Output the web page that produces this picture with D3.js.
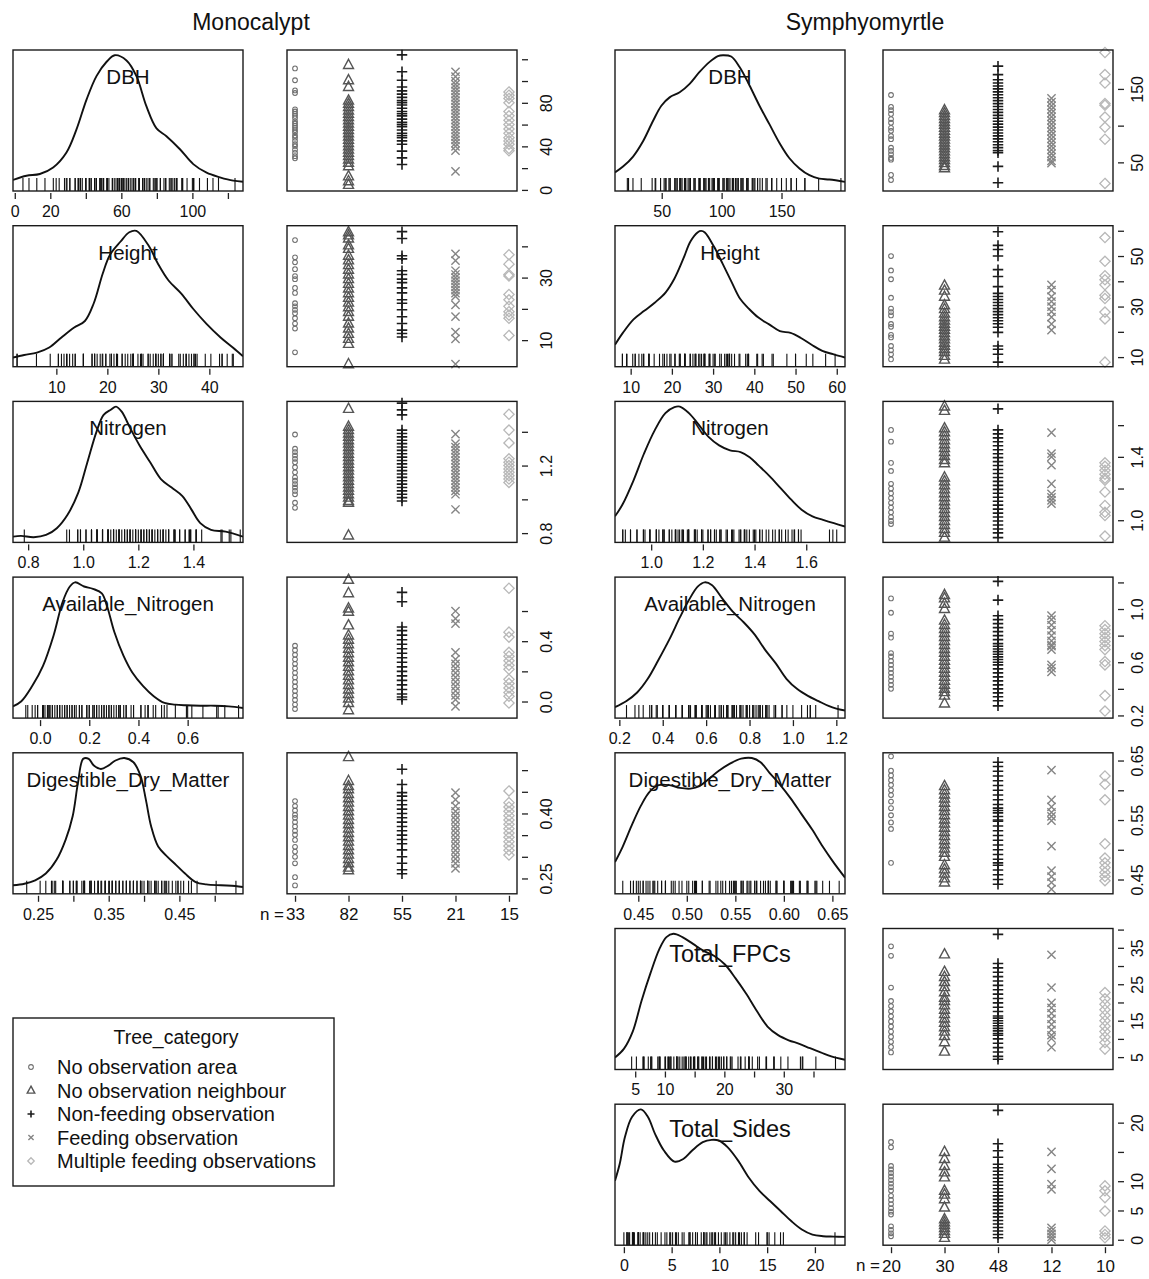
<!DOCTYPE html>
<html>
<head>
<meta charset="utf-8">
<script src="https://cdn.jsdelivr.net/npm/d3@7"></script>
<style>
  body { margin: 0; background: #fff; }
  svg text { font-family: "Liberation Sans", Arial, Helvetica, sans-serif; fill: #111; }
</style>
</head>
<body>
<svg id="chart" width="1149" height="1279"></svg>
<script>
(function() {

// ---- categories / counts ----
var categories = ['No observation area', 'No observation neighbour', 'Non-feeding observation',
                  'Feeding observation', 'Multiple feeding observations'];
var monoCounts = ['33', '82', '55', '21', '15'];
var symphCounts = ['20', '30', '48', '12', '10'];

// ---- Monocalypt: density curves [value, relative density] ----
var monoDbhCurve = [[-1,0.045],[6.6,0.077],[14.1,0.09],[21.6,0.14],[29.1,0.255],[34.7,0.43],[40.4,0.66],[46,0.84],[51.7,0.95],[56.3,1],[62.9,0.96],[68.5,0.84],[74.1,0.61],[79.8,0.44],[85.4,0.38],[93,0.28],[100.5,0.166],[108,0.1],[115.5,0.065],[123,0.039],[128.5,0.031]];
var monoHeightCurve = [[1.5,0.03],[3.7,0.05],[6.2,0.068],[8.6,0.107],[11,0.184],[13.5,0.26],[15.6,0.31],[17.3,0.442],[19.1,0.674],[20.5,0.816],[22.6,0.919],[24.3,0.99],[25.7,1],[28.2,0.88],[29.9,0.75],[32,0.62],[34.5,0.52],[36.9,0.4],[39.4,0.29],[42.2,0.184],[44.6,0.107],[46.6,0.04]];
var monoNitroCurve = [[0.745,0.004],[0.774,0.01],[0.82,0.0],[0.865,0.017],[0.904,0.069],[0.943,0.172],[0.982,0.341],[1.015,0.574],[1.048,0.807],[1.074,0.937],[1.1,0.976],[1.119,1],[1.139,0.963],[1.171,0.833],[1.204,0.704],[1.243,0.574],[1.282,0.445],[1.321,0.38],[1.36,0.315],[1.393,0.211],[1.425,0.108],[1.464,0.056],[1.517,0.043],[1.58,0.004]];
var monoAvnCurve = [[-0.11,0.05],[-0.076,0.089],[-0.032,0.205],[0.012,0.36],[0.055,0.593],[0.092,0.851],[0.121,0.968],[0.142,1],[0.179,0.968],[0.215,0.95],[0.251,0.916],[0.273,0.813],[0.302,0.619],[0.339,0.438],[0.375,0.309],[0.419,0.205],[0.462,0.128],[0.506,0.076],[0.549,0.063],[0.593,0.058],[0.651,0.055],[0.709,0.055],[0.767,0.05],[0.825,0.037]];
var monoDdmCurve = [[0.2146,0.025],[0.2308,0.037],[0.246,0.063],[0.261,0.115],[0.276,0.218],[0.289,0.373],[0.299,0.554],[0.3066,0.813],[0.314,0.994],[0.3217,0.994],[0.329,0.942],[0.339,0.916],[0.3495,0.942],[0.3596,0.981],[0.372,1],[0.385,0.968],[0.395,0.864],[0.4025,0.683],[0.41,0.477],[0.42,0.322],[0.4328,0.245],[0.4455,0.18],[0.458,0.115],[0.473,0.05],[0.488,0.032],[0.5086,0.025],[0.529,0.02],[0.54,0.012]];

// ---- Monocalypt: values per tree category ----
var monoDbhGroups = [
  [111.6,100.7,91.4,89,74,72,70,68,66,63,61,59,57,55,53,50,48,45,42,40,37,34,31,29],
  [114.7,100.7,94.5,82,79,76,73,70,67,64,61,58,55,52,49,46,43,40,37,34,31,28,25,21.7,12.4,8,4.6],
  [124,108.5,100.7,94.5,91,88,85,82,80,78,75,72,70,68,65,62,60,58,55,52,50,48,45,42,35.6,29.4,23.3],
  [108.5,104,100,97,94,91,88,85,82,79,76,73,70,67,64,61,58,55,52,49,46,43,40,36,17],
  [90,87,84,80,72,68,64,60,56,52,48,45,42,38,36]
];
var monoHeightGroups = [
  [42,36.5,34.9,32.7,30.5,29.5,26.7,25.1,21.8,20.8,19.7,18.6,17,15.3,13.7,6.1],
  [44.5,43.5,42.5,40.3,39.2,37,35.5,34,32.5,31,29.5,28,26.5,25,23.5,22,20.5,19,17.5,15.3,13.7,12,10.4,8.8,2.3],
  [44.7,42.5,37,36,32.2,31,29.5,28.4,26.7,25.1,22.9,21.8,19.7,17.5,15.3,13.2,12.1,11],
  [37.6,35.4,32.2,31,30,29,28,27,26,25,24,21.3,17.5,12.6,10.4,2.3],
  [37.3,34.3,31,30.5,24.6,22.9,20.8,19.1,18,17,11.5]
];
var monoNitroGroups = [
  [1.384,1.30,1.28,1.26,1.24,1.22,1.19,1.16,1.13,1.11,1.09,1.07,1.05,1.03,0.98,0.95],
  [1.536,1.43,1.41,1.39,1.37,1.35,1.33,1.31,1.29,1.27,1.25,1.23,1.21,1.19,1.17,1.15,1.13,1.11,1.09,1.07,1.05,1.03,1.01,0.99,0.98,0.786],
  [1.57,1.53,1.50,1.41,1.39,1.37,1.35,1.33,1.31,1.29,1.27,1.25,1.23,1.21,1.19,1.17,1.15,1.13,1.11,1.09,1.07,1.05,1.03,1.01,0.99],
  [1.386,1.33,1.31,1.29,1.27,1.25,1.23,1.21,1.19,1.17,1.15,1.13,1.11,1.09,1.07,1.05,1.03,0.94],
  [1.504,1.41,1.334,1.24,1.22,1.2,1.18,1.16,1.14,1.12,1.10]
];
var monoAvnGroups = [
  [0.37,0.34,0.31,0.28,0.25,0.22,0.19,0.16,0.13,0.10,0.07,0.04,0.01,-0.02,-0.05],
  [0.807,0.718,0.617,0.595,0.505,0.438,0.41,0.38,0.35,0.32,0.29,0.26,0.23,0.2,0.17,0.14,0.11,0.08,0.05,0.02,-0.01,-0.058],
  [0.724,0.662,0.494,0.47,0.44,0.41,0.38,0.35,0.32,0.29,0.26,0.23,0.2,0.17,0.14,0.11,0.08,0.05,0.03,0.013],
  [0.60,0.55,0.516,0.326,0.28,0.25,0.22,0.19,0.16,0.13,0.1,0.07,0.04,0.013,-0.032],
  [0.751,0.46,0.427,0.326,0.30,0.27,0.24,0.214,0.147,0.12,0.09,0.06,0.035,-0.01]
];
var monoDdmGroups = [
  [0.4286,0.417,0.407,0.397,0.39,0.38,0.370,0.36,0.351,0.339,0.323,0.312,0.300,0.285,0.253,0.234],
  [0.53,0.475,0.463,0.456,0.445,0.435,0.425,0.415,0.405,0.395,0.385,0.375,0.365,0.355,0.345,0.335,0.325,0.315,0.305,0.295,0.285,0.275,0.269],
  [0.502,0.467,0.448,0.44,0.43,0.42,0.41,0.40,0.39,0.38,0.37,0.36,0.35,0.34,0.33,0.316,0.30,0.285,0.27,0.261],
  [0.448,0.432,0.417,0.405,0.395,0.385,0.375,0.365,0.355,0.345,0.335,0.325,0.315,0.305,0.295,0.285,0.273],
  [0.452,0.425,0.415,0.405,0.395,0.385,0.375,0.365,0.355,0.345,0.335,0.325,0.315,0.304]
];

// ---- Symphyomyrtle: density curves ----
var symDbhCurve = [[11,0.103],[17.7,0.147],[26.1,0.224],[34.4,0.341],[42.7,0.496],[49.7,0.613],[56.6,0.677],[65,0.716],[73.3,0.781],[81.6,0.872],[90,0.949],[96.9,0.994],[101.1,1],[108,0.99],[115,0.91],[123.3,0.768],[131.6,0.613],[140,0.47],[148.3,0.328],[156.6,0.211],[165,0.133],[173.3,0.081],[181.6,0.055],[190,0.048],[203,0.03]];
var symHeightCurve = [[6.2,0.128],[8.1,0.219],[10.7,0.323],[13.3,0.388],[15.9,0.452],[18.5,0.53],[20.6,0.634],[22.8,0.789],[24.5,0.919],[26.3,0.99],[27.1,1],[28,0.988],[30.2,0.88],[32.3,0.75],[34.5,0.608],[36.6,0.478],[38.8,0.4],[41,0.336],[43.6,0.284],[46.2,0.232],[48.8,0.219],[51.3,0.18],[53.9,0.128],[56.5,0.081],[59.1,0.056],[62,0.03]];
var symNitroCurve = [[0.86,0.16],[0.889,0.25],[0.931,0.432],[0.972,0.639],[1.014,0.82],[1.055,0.95],[1.09,0.996],[1.111,1],[1.146,0.95],[1.18,0.872],[1.222,0.768],[1.263,0.703],[1.305,0.665],[1.346,0.652],[1.381,0.613],[1.416,0.548],[1.457,0.47],[1.499,0.38],[1.541,0.289],[1.582,0.211],[1.624,0.16],[1.665,0.133],[1.707,0.107],[1.75,0.082]];
var symAvnCurve = [[0.18,0.044],[0.233,0.091],[0.282,0.156],[0.331,0.261],[0.38,0.405],[0.43,0.561],[0.479,0.731],[0.52,0.862],[0.561,0.967],[0.593,1],[0.626,0.98],[0.675,0.875],[0.725,0.771],[0.774,0.692],[0.823,0.601],[0.872,0.483],[0.921,0.379],[0.97,0.261],[1.02,0.182],[1.069,0.13],[1.118,0.09],[1.167,0.051],[1.2,0.033],[1.24,0.018]];
var symDdmCurve = [[0.426,0.203],[0.434,0.322],[0.443,0.48],[0.453,0.639],[0.462,0.744],[0.471,0.792],[0.482,0.792],[0.493,0.771],[0.504,0.766],[0.513,0.784],[0.522,0.836],[0.533,0.902],[0.544,0.955],[0.556,0.995],[0.567,1],[0.576,0.968],[0.585,0.889],[0.596,0.797],[0.607,0.691],[0.618,0.572],[0.629,0.454],[0.64,0.322],[0.651,0.203],[0.663,0.084]];
var symFpcCurve = [[1.6,0.052],[3.09,0.118],[4.58,0.25],[6.07,0.487],[7.57,0.698],[9.06,0.882],[10.25,0.974],[11.44,1],[12.94,0.974],[14.73,0.922],[16.52,0.869],[18.31,0.829],[20.1,0.764],[21.89,0.658],[23.68,0.54],[25.47,0.408],[27.26,0.289],[29.05,0.223],[30.83,0.184],[32.62,0.157],[34.41,0.123],[36.2,0.092],[37.99,0.06],[40.3,0.034]];
var symSidesCurve = [[-0.93,0.454],[-0.44,0.582],[0.11,0.788],[0.85,0.942],[1.78,1],[2.52,0.942],[3.26,0.813],[4.19,0.685],[5.3,0.6],[6.22,0.62],[7.15,0.685],[8.26,0.749],[9.19,0.767],[9.93,0.762],[10.85,0.711],[11.96,0.608],[13.07,0.479],[14.19,0.376],[15.3,0.299],[16.41,0.222],[17.52,0.145],[18.63,0.08],[19.74,0.041],[20.85,0.029],[21.96,0.026],[23.15,0.024]];

// ---- Symphyomyrtle: values per tree category ----
var symDbhGroups = [
  [141.7,125.5,121,116,109,104,97,93,86,81.5,70,65.5,61,56,53.7,32.9,26],
  [121,117,113,109,105,101,97,93,89,85,81,77,73,69,65,61,57,53,49,45,42],
  [181,169.5,162.5,158,154,150,146,142,138,134,130,126,122,118,114,110,106,102,98,94,90,86,82,78,74,70,66,63,44.5,22.3],
  [137,132,127,122,117,112,107,102,97,92,87,82,77,72,67,62,57,52,49],
  [199.6,169.5,158,130,127.8,111.6,97.7,81.5,21.3]
];
var symHeightGroups = [
  [50,44.3,40.8,33.5,29.2,27.8,26.5,23.1,22,18.8,17.8,14.4,12.7,11.1,9.1],
  [38.3,36.3,33.9,30.5,29,27.2,25.8,24.5,23.2,22,20.8,19.5,18.2,17,15.7,14.5,13.2,12,10.5,9],
  [59.6,54.2,52.6,50,44.6,41.9,37.9,35.2,34,32.8,31.6,30.4,29.2,28,26.8,25.6,24.4,23.2,21.8,19.8,14.4,13.1,11.1,8],
  [38.6,36.5,33.9,32,30,28,25.8,23.1,20.7],
  [57.3,47.9,42.2,40.6,38.6,34.5,33.2,27.8,25.1,8]
];
var symNitroGroups = [
  [1.57,1.496,1.362,1.311,1.23,1.20,1.17,1.14,1.11,1.08,1.05,1.02,0.995,0.976],
  [1.718,1.69,1.58,1.555,1.53,1.505,1.48,1.455,1.43,1.405,1.38,1.36,1.27,1.245,1.22,1.195,1.17,1.145,1.12,1.095,1.07,1.045,1.02,0.995,0.97,0.945,0.92,0.89],
  [1.703,1.57,1.545,1.52,1.495,1.47,1.445,1.42,1.395,1.37,1.345,1.32,1.295,1.27,1.245,1.22,1.195,1.17,1.145,1.12,1.095,1.07,1.045,1.02,0.995,0.97,0.945,0.92,0.89],
  [1.553,1.42,1.40,1.347,1.23,1.167,1.145,1.125,1.104],
  [1.362,1.34,1.315,1.29,1.265,1.252,1.178,1.093,1.05,1.03,0.9]
];
var symAvnGroups = [
  [1.08,0.972,0.815,0.785,0.669,0.643,0.61,0.58,0.55,0.52,0.49,0.46,0.43,0.40],
  [1.105,1.08,1.04,1.0,0.913,0.88,0.85,0.82,0.79,0.76,0.73,0.70,0.67,0.64,0.61,0.58,0.55,0.52,0.49,0.46,0.43,0.40,0.375,0.349,0.29],
  [1.208,1.067,0.95,0.92,0.89,0.86,0.83,0.80,0.77,0.74,0.72,0.70,0.68,0.66,0.64,0.62,0.60,0.58,0.55,0.52,0.49,0.46,0.43,0.40,0.37,0.34,0.31,0.272],
  [0.95,0.92,0.88,0.84,0.80,0.76,0.73,0.72,0.695,0.58,0.555,0.528],
  [0.874,0.845,0.815,0.785,0.755,0.725,0.695,0.605,0.58,0.349,0.233]
];
var symDdmGroups = [
  [0.657,0.633,0.625,0.617,0.609,0.6,0.592,0.581,0.57,0.558,0.546,0.535,0.478],
  [0.607,0.6,0.593,0.586,0.579,0.572,0.565,0.558,0.551,0.544,0.537,0.53,0.523,0.516,0.509,0.502,0.495,0.488,0.474,0.467,0.46,0.452,0.445],
  [0.647,0.64,0.632,0.624,0.616,0.608,0.6,0.592,0.584,0.576,0.57,0.566,0.562,0.556,0.55,0.548,0.54,0.532,0.524,0.516,0.508,0.5,0.492,0.484,0.478,0.474,0.466,0.458,0.45,0.442],
  [0.634,0.584,0.572,0.563,0.556,0.549,0.506,0.465,0.455,0.445,0.434],
  [0.624,0.61,0.584,0.51,0.486,0.478,0.47,0.462,0.455,0.448]
];
var symFpcGroups = [
  [35.4,32.8,24.1,20.4,19,17.6,16.2,14.8,13.4,12,10.6,9.2,7.8,6.3],
  [33.2,28.4,27,25.6,24.2,22.8,21.3,20.4,19.2,18,16.8,15.6,14.4,13.2,12,10.8,9.1,6.5],
  [38.7,30.7,29.5,28.3,27.1,25.9,24.7,23.5,22.3,21.1,19.9,18.7,17.5,16.3,15.7,15,14.3,13.6,12.9,12.2,11.5,11,10,8.8,7.6,6.4,5.2,4.4],
  [33.1,24.1,19.9,18.5,17,15.5,14,12.5,11,10.1,7.7],
  [22.7,21,19.5,18,16.5,15,13.5,12,10.5,9,7.2]
];
var symSidesGroups = [
  [16.7,15.8,12.6,12,11.4,10.8,10.2,9.6,9,8.4,7.5,6.8,6.1,5.4,4.8,4.3,2.3,1.7,1.1,0.6],
  [15.0,13.8,12.6,11.5,10.65,8.36,7.7,6.93,5.5,3.5,3.0,2.5,2.0,1.5,1.0,0.33],
  [22.1,16.4,15.2,14.1,12.9,12.3,11.7,11.1,10.5,9.9,9.3,8.7,8.1,7.5,6.9,6.3,5.7,5.1,4.5,3.9,3.3,2.7,2.1,1.5,0.9,0.33],
  [15.0,12.1,9.5,8.6,2.05,1.5,1.0,0.5,0],
  [9.2,8.36,7.2,4.9,1.5,0.9,0.33]
];

// ---- panels: name, value range, ticks and tick labels ----
var monoPanels = [
  {name: 'DBH', domain: [-1, 128.5], curve: monoDbhCurve, groups: monoDbhGroups,
   dTicks: [0,20,40,60,80,100,120], dLabels: ['0','20','','60','','100',''],
   sTicks: [0,20,40,60,80,100,120], sLabels: ['0','','40','','80','','']},
  {name: 'Height', domain: [1.5, 46.6], curve: monoHeightCurve, groups: monoHeightGroups,
   dTicks: [10,20,30,40], dLabels: ['10','20','30','40'],
   sTicks: [10,20,30,40], sLabels: ['10','','30','']},
  {name: 'Nitrogen', domain: [0.745, 1.58], curve: monoNitroCurve, groups: monoNitroGroups,
   dTicks: [0.8,1.0,1.2,1.4], dLabels: ['0.8','1.0','1.2','1.4'],
   sTicks: [0.8,1.0,1.2,1.4], sLabels: ['0.8','','1.2','']},
  {name: 'Available_Nitrogen', domain: [-0.11, 0.825], curve: monoAvnCurve, groups: monoAvnGroups,
   dTicks: [0,0.2,0.4,0.6], dLabels: ['0.0','0.2','0.4','0.6'],
   sTicks: [0,0.2,0.4,0.6], sLabels: ['0.0','','0.4','']},
  {name: 'Digestible_Dry_Matter', domain: [0.2146, 0.54], curve: monoDdmCurve, groups: monoDdmGroups,
   dTicks: [0.25,0.30,0.35,0.40,0.45,0.50], dLabels: ['0.25','','0.35','','0.45',''],
   sTicks: [0.25,0.30,0.35,0.40,0.45,0.50], sLabels: ['0.25','','','0.40','','']}
];
var symphPanels = [
  {name: 'DBH', domain: [11, 203], curve: symDbhCurve, groups: symDbhGroups,
   dTicks: [50,100,150], dLabels: ['50','100','150'],
   sTicks: [50,100,150], sLabels: ['50','','150']},
  {name: 'Height', domain: [6.2, 62], curve: symHeightCurve, groups: symHeightGroups,
   dTicks: [10,20,30,40,50,60], dLabels: ['10','20','30','40','50','60'],
   sTicks: [10,20,30,40,50,60], sLabels: ['10','','30','','50','']},
  {name: 'Nitrogen', domain: [0.86, 1.75], curve: symNitroCurve, groups: symNitroGroups,
   dTicks: [1.0,1.2,1.4,1.6], dLabels: ['1.0','1.2','1.4','1.6'],
   sTicks: [1.0,1.2,1.4,1.6], sLabels: ['1.0','','1.4','']},
  {name: 'Available_Nitrogen', domain: [0.18, 1.24], curve: symAvnCurve, groups: symAvnGroups,
   dTicks: [0.2,0.4,0.6,0.8,1.0,1.2], dLabels: ['0.2','0.4','0.6','0.8','1.0','1.2'],
   sTicks: [0.2,0.4,0.6,0.8,1.0,1.2], sLabels: ['0.2','','0.6','','1.0','']},
  {name: 'Digestible_Dry_Matter', domain: [0.426, 0.663], curve: symDdmCurve, groups: symDdmGroups,
   dTicks: [0.45,0.50,0.55,0.60,0.65], dLabels: ['0.45','0.50','0.55','0.60','0.65'],
   sTicks: [0.45,0.50,0.55,0.60,0.65], sLabels: ['0.45','','0.55','','0.65']},
  {name: 'Total_FPCs', big: true, domain: [1.6, 40.3], curve: symFpcCurve, groups: symFpcGroups,
   dTicks: [5,10,15,20,25,30,35], dLabels: ['5','10','','20','','30',''],
   sTicks: [5,10,15,20,25,30,35,40], sLabels: ['5','','15','','25','','35','']},
  {name: 'Total_Sides', big: true, domain: [-0.93, 23.15], curve: symSidesCurve, groups: symSidesGroups,
   dTicks: [0,5,10,15,20], dLabels: ['0','5','10','15','20'],
   sTicks: [0,5,10,15,20], sLabels: ['0','5','10','','20']}
];

// ---- layout ----
var columns = [
  {title: 'Monocalypt', titleX: 251, densX: 13, stripX: 287, labelOff: 30, panels: monoPanels, counts: monoCounts},
  {title: 'Symphyomyrtle', titleX: 865, densX: 615, stripX: 883, labelOff: 25, panels: symphPanels, counts: symphCounts}
];
var panelW = 230, panelH = 141, rowTop = 50, rowStep = 175.7;

// R-like plotting symbols (pch 1..5)
var pch = [
  {draw: function(c, s) { var r = Math.sqrt(s) / 2; c.moveTo(r, 0); c.arc(0, 0, r, 0, 2 * Math.PI); }},
  {draw: function(c, s) { var k = Math.sqrt(s); c.moveTo(0, -0.62 * k); c.lineTo(0.54 * k, 0.38 * k); c.lineTo(-0.54 * k, 0.38 * k); c.closePath(); }},
  {draw: function(c, s) { var h = Math.sqrt(s) / 2; c.moveTo(-h, 0); c.lineTo(h, 0); c.moveTo(0, -h); c.lineTo(0, h); }},
  {draw: function(c, s) { var h = Math.sqrt(s) * 0.4; c.moveTo(-h, -h); c.lineTo(h, h); c.moveTo(-h, h); c.lineTo(h, -h); }},
  {draw: function(c, s) { var h = Math.sqrt(s) / 2; c.moveTo(0, -h); c.lineTo(h, 0); c.lineTo(0, h); c.lineTo(-h, 0); c.closePath(); }}
];
var symColor = ['#707070', '#555555', '#1c1c1c', '#858585', '#b8b8b8'];
var symSize = [22, 85, 110, 105, 105];
var symWidth = [1.1, 1.4, 1.6, 1.4, 1.3];
var fontStack = '"Liberation Sans", Arial, sans-serif';

var svg = d3.select('#chart');

columns.forEach(function(col, ci) {
  svg.append('text')
     .attr('x', col.titleX).attr('y', 30)
     .attr('text-anchor', 'middle')
     .style('font-size', '23px')
     .text(col.title);

  col.panels.forEach(function(p, ri) {
    var top = rowTop + ri * rowStep, bottom = top + panelH;
    var last = ri === col.panels.length - 1;
    var id = 'clip' + ci + '_' + ri;

    // ---------- density panel ----------
    var x = d3.scaleLinear().domain(p.domain).range([col.densX, col.densX + panelW]);
    var y = d3.scaleLinear().domain([-0.04, 1.04]).range([bottom, top]);

    svg.append('clipPath').attr('id', id)
       .append('rect').attr('x', col.densX).attr('y', top).attr('width', panelW).attr('height', panelH);

    var g = svg.append('g');
    var allValues = d3.merge(p.groups);

    // rug
    g.append('g').selectAll('line')
     .data(allValues)
     .enter().append('line')
     .attr('x1', function(d) { return x(d); }).attr('x2', function(d) { return x(d); })
     .attr('y1', bottom).attr('y2', bottom - 13)
     .attr('stroke', '#111').attr('stroke-width', 1.1)
     .attr('clip-path', 'url(#' + id + ')');

    g.append('path')
     .datum(p.curve)
     .attr('d', d3.line().x(function(d) { return x(d[0]); }).y(function(d) { return y(d[1]); }).curve(d3.curveCatmullRom))
     .attr('fill', 'none').attr('stroke', '#111').attr('stroke-width', 1.9)
     .attr('clip-path', 'url(#' + id + ')');

    g.append('text')
     .attr('x', col.densX + panelW / 2).attr('y', top + (p.big ? 33 : 34))
     .attr('text-anchor', 'middle')
     .style('font-size', p.big ? '23.5px' : '20.5px')
     .text(p.name);

    g.append('rect')
     .attr('x', col.densX).attr('y', top).attr('width', panelW).attr('height', panelH)
     .attr('fill', 'none').attr('stroke', '#1a1a1a').attr('stroke-width', 1.4);

    g.append('g')
     .attr('transform', 'translate(0,' + (bottom + 2) + ')')
     .call(d3.axisBottom(x).tickValues(p.dTicks).tickSize(6).tickPadding(6.5)
           .tickFormat(function(d, i) { return p.dLabels[i]; }))
     .call(function(a) {
       a.select('.domain').remove();
       a.selectAll('line').attr('stroke', '#222').attr('stroke-width', 1.3);
       a.selectAll('text').style('font-size', '16px').attr('fill', '#111').style('font-family', fontStack);
     });

    // ---------- strip panel ----------
    var sx = d3.scaleLinear().domain([0.85, 5.15]).range([col.stripX, col.stripX + panelW]);
    var sy = d3.scaleLinear().domain(p.domain).range([bottom, top]);
    var sg = svg.append('g');

    p.groups.forEach(function(vals, k) {
      sg.append('g').selectAll('path')
        .data(vals)
        .enter().append('path')
        .attr('transform', function(d) { return 'translate(' + sx(k + 1) + ',' + sy(d) + ')'; })
        .attr('d', d3.symbol().type(pch[k]).size(symSize[k]))
        .attr('fill', 'none').attr('stroke', symColor[k]).attr('stroke-width', symWidth[k]);
    });

    sg.append('rect')
      .attr('x', col.stripX).attr('y', top).attr('width', panelW).attr('height', panelH)
      .attr('fill', 'none').attr('stroke', '#1a1a1a').attr('stroke-width', 1.4);

    sg.append('g')
      .attr('transform', 'translate(' + (col.stripX + panelW + 5) + ',0)')
      .call(d3.axisRight(sy).tickValues(p.sTicks).tickSize(6)
            .tickFormat(function(d, i) { return p.sLabels[i]; }))
      .call(function(a) {
        a.select('.domain').remove();
        a.selectAll('line').attr('stroke', '#222').attr('stroke-width', 1.3);
        a.selectAll('text')
         .attr('x', null).attr('dy', null)
         .attr('text-anchor', 'middle')
         .attr('transform', 'translate(' + col.labelOff + ',0) rotate(-90)')
         .style('font-size', '16px').attr('fill', '#111').style('font-family', fontStack);
      });

    if (last) {
      sg.append('g')
        .attr('transform', 'translate(0,' + (bottom + 2) + ')')
        .call(d3.axisBottom(sx).tickValues([1, 2, 3, 4, 5]).tickSize(6).tickPadding(6.5)
              .tickFormat(function(d, i) { return col.counts[i]; }))
        .call(function(a) {
          a.select('.domain').remove();
          a.selectAll('line').attr('stroke', '#222').attr('stroke-width', 1.3);
          a.selectAll('text').style('font-size', '17px').attr('fill', '#111').style('font-family', fontStack);
        });
      sg.append('text')
        .attr('x', sx(1) - 11).attr('y', bottom + 26)
        .attr('text-anchor', 'end')
        .style('font-size', '17px')
        .text('n =');
    }
  });
});

// ---------- legend ----------
var leg = svg.append('g');
leg.append('rect')
   .attr('x', 13).attr('y', 1018).attr('width', 321).attr('height', 168)
   .attr('fill', 'none').attr('stroke', '#1a1a1a').attr('stroke-width', 1.4);
leg.append('text')
   .attr('x', 176).attr('y', 1044)
   .attr('text-anchor', 'middle')
   .style('font-size', '19.5px')
   .text('Tree_category');

var legSize = [22, 49, 49, 42, 42];
var legY = d3.scalePoint().domain(d3.range(categories.length)).range([1067, 1161]);
categories.forEach(function(cat, k) {
  leg.append('path')
     .attr('transform', 'translate(31,' + legY(k) + ')')
     .attr('d', d3.symbol().type(pch[k]).size(legSize[k]))
     .attr('fill', 'none').attr('stroke', symColor[k]).attr('stroke-width', symWidth[k]);
  leg.append('text')
     .attr('x', 57).attr('y', legY(k) + 7)
     .style('font-size', '20px')
     .text(cat);
});

})();
</script>
</body>
</html>
